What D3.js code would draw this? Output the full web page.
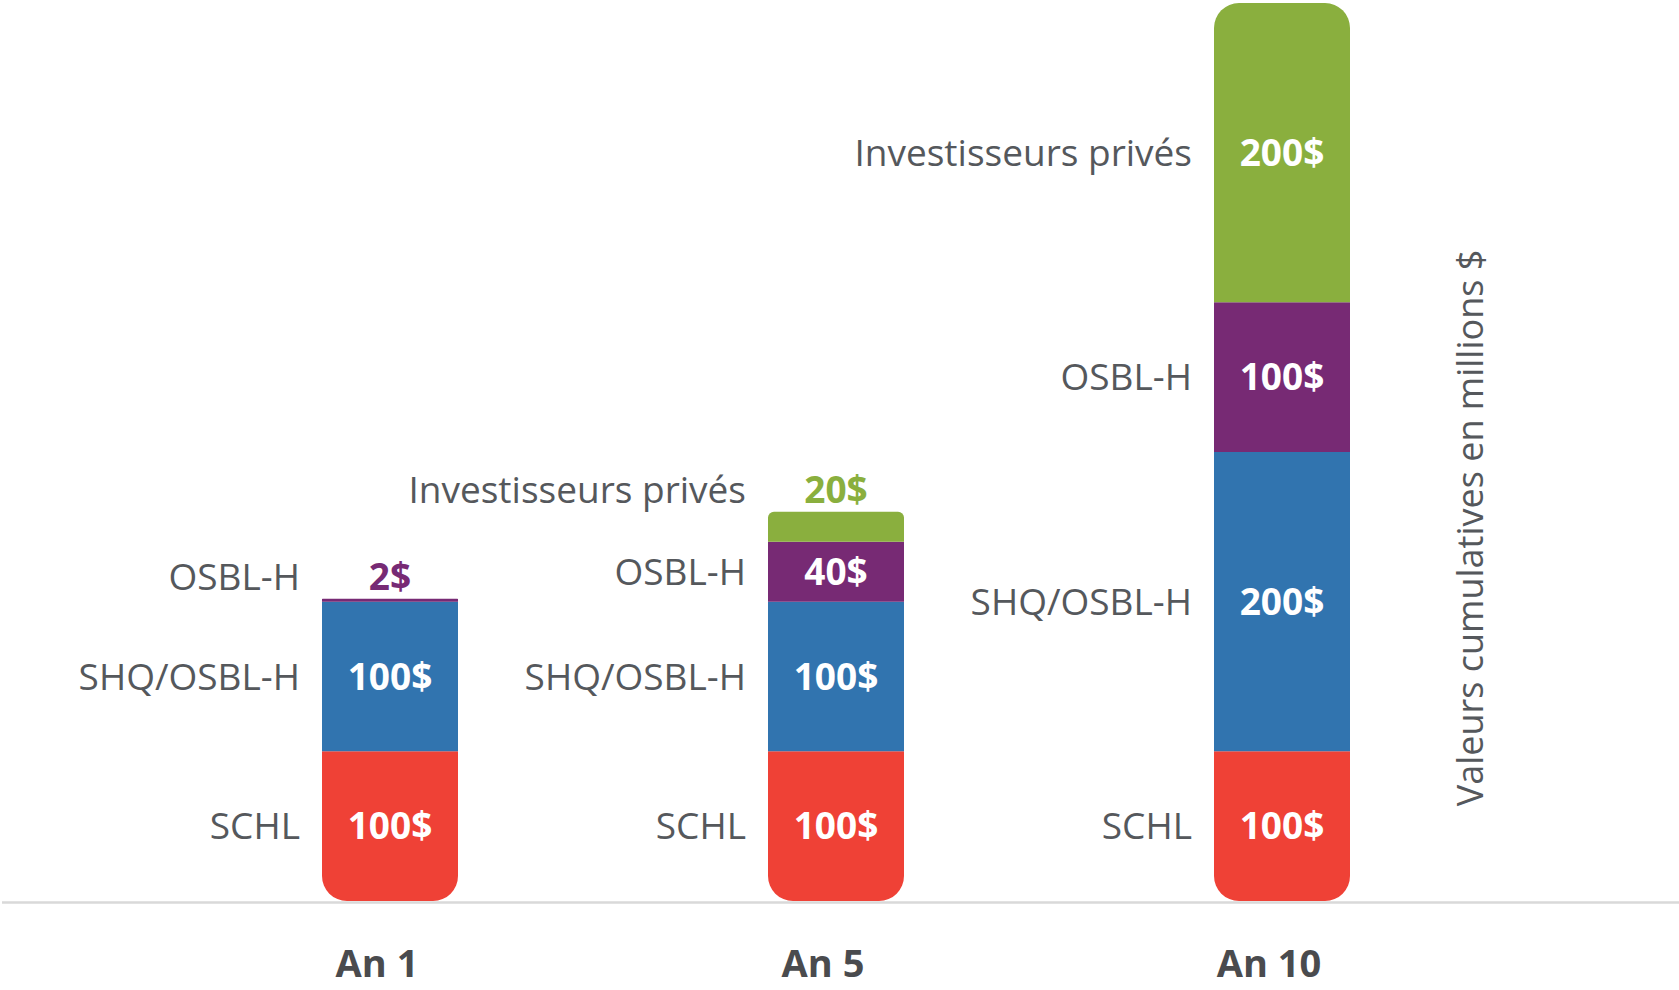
<!DOCTYPE html>
<html>
<head>
<meta charset="utf-8">
<script src="https://cdn.jsdelivr.net/npm/d3@7"></script>
<style>
  body { margin: 0; background: #fff; }
  svg { display: block; font-family: 'Open Sans', sans-serif; }
</style>
</head>
<body>
<svg id="chart" width="1679" height="990"></svg>
<script>
// Data (millions $, cumulative)
var years = ['An 1', 'An 5', 'An 10'];
var sources = ['SCHL', 'SHQ/OSBL-H', 'OSBL-H', 'Investisseurs privés'];
var schl = [100, 100, 100];
var shqOsbl = [100, 100, 200];
var osbl = [2, 40, 100];
var prives = [0, 20, 200];
var sourceColors = ['#ef4136', '#3174af', '#772a74', '#8aaf3e'];
var yTitle = 'Valeurs cumulatives en millions $';

var svg = d3.select('#chart');
var width = 1679, height = 990;

var BASELINE = 901;
var TOP = 3;
var BAR_WIDTH = 136;
var BAR_SHIFT = 13;       // bars sit a little to the right of the category labels
var RADIUS = 25;
var LABEL_GAP = 22;

// table for the stack
var table = years.map(function(y, i) {
    var row = { year: y };
    row[sources[0]] = schl[i];
    row[sources[1]] = shqOsbl[i];
    row[sources[2]] = osbl[i];
    row[sources[3]] = prives[i];
    return row;
});

var series = d3.stack().keys(sources)(table);

var x = d3.scaleBand()
    .domain(years)
    .range([154, 1492])
    .paddingInner(0)
    .paddingOuter(0);
var y = d3.scaleLinear()
    .domain([0, 600])
    .range([BASELINE, TOP]);
var z = d3.scaleOrdinal()
    .domain(sources)
    .range(sourceColors);

// rect path with optional rounded top / bottom corners
function segmentPath(x0, y0, w, h, rTop, rBottom) {
    var p = d3.path();
    p.moveTo(x0 + rTop, y0);
    p.lineTo(x0 + w - rTop, y0);
    if (rTop) p.arcTo(x0 + w, y0, x0 + w, y0 + rTop, rTop);
    p.lineTo(x0 + w, y0 + h - rBottom);
    if (rBottom) p.arcTo(x0 + w, y0 + h, x0 + w - rBottom, y0 + h, rBottom);
    p.lineTo(x0 + rBottom, y0 + h);
    if (rBottom) p.arcTo(x0, y0 + h, x0, y0 + h - rBottom, rBottom);
    p.lineTo(x0, y0 + rTop);
    if (rTop) p.arcTo(x0, y0, x0 + rTop, y0, rTop);
    p.closePath();
    return p.toString();
}

// flatten segments
var segments = [];
series.forEach(function(s, si) {
    s.forEach(function(d, i) {
        if (d[1] - d[0] <= 0) return;
        segments.push({ key: s.key, index: si, year: d.data.year, y0: d[0], y1: d[1], value: d[1] - d[0] });
    });
});
years.forEach(function(yr) {
    var segs = segments.filter(function(s) { return s.year === yr; });
    segs[0].isBottom = true;
    segs[segs.length - 1].isTop = true;
});

// baseline
svg.append('line')
    .attr('x1', 2).attr('x2', width)
    .attr('y1', BASELINE + 1.5).attr('y2', BASELINE + 1.5)
    .attr('stroke', '#d9d9d9')
    .attr('stroke-width', 2.5);

var bars = svg.append('g');
bars.selectAll('path.segment')
    .data(segments)
    .enter().append('path')
    .attr('class', 'segment')
    .attr('fill', function(d) { return z(d.key); })
    .attr('d', function(d) {
        var x0 = x(d.year) + x.bandwidth() / 2 - BAR_WIDTH / 2 + BAR_SHIFT;
        var top = y(d.y1), h = y(d.y0) - y(d.y1);
        var r = Math.min(RADIUS, h * 0.2);
        return segmentPath(x0, top, BAR_WIDTH, h, d.isTop ? r : 0, d.isBottom ? RADIUS : 0);
    });

// label position: inside the segment, or above the stack when too thin
segments.forEach(function(d) {
    var h = y(d.y0) - y(d.y1);
    d.inside = h > 40;
    d.cy = d.inside ? (y(d.y0) + y(d.y1)) / 2 : y(d.y1) - LABEL_GAP;
    d.cx = x(d.year) + x.bandwidth() / 2 + BAR_SHIFT;
});

svg.append('g').selectAll('text')
    .data(segments)
    .enter().append('text')
    .attr('x', function(d) { return d.cx; })
    .attr('y', function(d) { return d.cy; })
    .attr('dy', '0.36em')
    .attr('text-anchor', 'middle')
    .style('font-size', '37px')
    .style('font-weight', 700)
    .attr('fill', function(d) { return d.inside ? '#fff' : z(d.key); })
    .text(function(d) { return d.value + '$'; });

svg.append('g').selectAll('text')
    .data(segments)
    .enter().append('text')
    .attr('x', function(d) { return d.cx - BAR_WIDTH / 2 - LABEL_GAP; })
    .attr('y', function(d) { return d.cy; })
    .attr('dy', '0.36em')
    .attr('text-anchor', 'end')
    .style('font-size', '37px')
    .attr('fill', '#55585c')
    .text(function(d) { return d.key; });

// category labels
var xAxis = d3.axisBottom(x).tickSize(0).tickPadding(0);
var xg = svg.append('g')
    .attr('transform', 'translate(0,' + 977 + ')')
    .call(xAxis);
xg.select('.domain').remove();
xg.selectAll('text')
    .attr('y', 0)
    .attr('dy', 0)
    .style('font-family', "'Open Sans', sans-serif")
    .style('font-size', '38px')
    .style('font-weight', 700)
    .attr('fill', '#4a4b4e');

// y title on the right
svg.append('text')
    .attr('transform', 'translate(1470,528) rotate(-90)')
    .attr('dy', '0.36em')
    .attr('text-anchor', 'middle')
    .style('font-size', '36px')
    .attr('fill', '#55585c')
    .text(yTitle);
</script>
</body>
</html>
